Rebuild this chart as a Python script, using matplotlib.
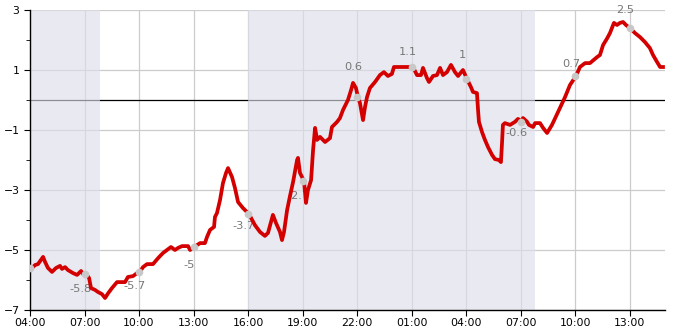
import numpy as np
import matplotlib
matplotlib.use('Agg')
import matplotlib.pyplot as plt
from matplotlib.ticker import MultipleLocator

# --- Data (hours after 04:00 on day one) ---
hours = [0.11, 0.28, 0.44, 0.72, 0.83, 0.99, 1.21, 1.43, 1.65, 1.76, 1.93, 2.09,
         2.37, 2.59, 2.81, 2.92, 3.08, 3.25, 3.36, 3.58, 3.74, 3.96, 4.13, 4.29,
         4.51, 4.79, 5.23, 5.39, 5.67, 5.89, 6.05, 6.22, 6.44, 6.77, 7.05, 7.32,
         7.60, 7.76, 7.98, 8.15, 8.37, 8.70, 8.81, 9.03, 9.36, 9.63, 9.74, 9.91,
         10.13, 10.18, 10.29, 10.46, 10.62, 10.79, 10.90, 11.12, 11.28, 11.45,
         11.72, 12.05, 12.38, 12.66, 12.93, 13.10, 13.37, 13.54, 13.76, 13.87,
         13.98, 14.15, 14.31, 14.48, 14.70, 14.75, 14.86, 15.08, 15.19, 15.30,
         15.47, 15.58, 15.69, 15.80, 15.96, 16.24, 16.51, 16.62, 16.90, 17.06,
         17.23, 17.50, 17.67, 17.78, 17.94, 18.05, 18.16, 18.33, 18.44, 18.55,
         18.71, 18.99, 19.26, 19.48, 19.70, 19.92, 20.03, 20.92, 21.08, 21.30,
         21.52, 21.63, 21.85, 21.96, 22.18, 22.40, 22.57, 22.73, 22.95, 23.17,
         23.39, 23.56, 23.83, 24.05, 24.27, 24.38, 24.60, 24.66, 24.71, 24.88,
         25.04, 25.21, 25.43, 25.59, 25.81, 25.92, 25.98, 26.03, 26.14, 26.42,
         26.69, 26.86, 27.08, 27.13, 27.35, 27.46, 27.69, 27.80, 28.07, 28.24,
         28.46, 28.73, 29.06, 29.45, 29.72, 30.05, 30.27, 30.55, 30.82, 31.21,
         31.37, 31.54, 31.76, 31.92, 32.14, 32.31, 32.47, 32.64, 32.80, 33.02,
         33.30, 33.57, 33.85, 34.12, 34.29, 34.51, 34.68, 34.84]
values = [-5.6, -5.5, -5.47, -5.23, -5.4, -5.6, -5.73, -5.6, -5.53, -5.63, -5.57, -5.67,
          -5.77, -5.83, -5.7, -5.8, -5.8, -5.93, -6.27, -6.33, -6.4, -6.47, -6.6, -6.45,
          -6.27, -6.07, -6.07, -5.9, -5.87, -5.77, -5.73, -5.57, -5.47, -5.47, -5.27, -5.1,
          -4.97, -4.9, -5.0, -4.93, -4.87, -4.87, -5.0, -4.9, -4.77, -4.77, -4.57, -4.33,
          -4.23, -3.9, -3.77, -3.33, -2.77, -2.43, -2.27, -2.57, -2.93, -3.4,
          -3.6, -3.8, -4.17, -4.4, -4.53, -4.43, -3.83, -4.1, -4.4, -4.67,
          -4.4, -3.67, -3.2, -2.73, -2.0, -1.93, -2.43, -2.7, -3.43, -3.0,
          -2.67, -1.67, -0.93, -1.33, -1.23, -1.4, -1.27, -0.9, -0.73, -0.6,
          -0.33, 0.0, 0.33, 0.57, 0.4, 0.1, -0.1, -0.67, -0.23, 0.1,
          0.4, 0.6, 0.83, 0.93, 0.8, 0.87, 1.1, 1.1, 1.1, 0.83,
          0.83, 1.07, 0.73, 0.6, 0.8, 0.83, 1.07, 0.83, 0.93, 1.17,
          0.93, 0.8, 1.0, 0.7, 0.43, 0.27, 0.23, -0.33, -0.73, -1.07,
          -1.33, -1.57, -1.83, -1.97, -2.0, -2.07, -1.43, -0.83, -0.77, -0.83,
          -0.73, -0.63, -0.73, -0.6, -0.72, -0.83, -0.9, -0.77, -0.77, -0.93,
          -1.1, -0.83, -0.4, 0.1, 0.5, 0.8, 1.1, 1.23, 1.23, 1.43,
          1.5, 1.83, 2.05, 2.23, 2.57, 2.5, 2.57, 2.6, 2.5, 2.4,
          2.23, 2.1, 1.93, 1.73, 1.5, 1.27, 1.1, 1.1]

# 3-hourly readings: marker position on the curve and the printed label
mark_hours = [0, 3, 6, 9, 12, 15, 18, 21, 24, 27, 30, 33]
mark_values = [-5.6, -5.8, -5.73, -4.9, -3.8, -2.7, 0.1, 1.1, 0.7, -0.73, 0.8, 2.4]
label_values = [None, -5.8, -5.7, -5, -3.7, -2.7, 0.6, 1.1, 1, -0.6, 0.7, 2.5]

tick_labels = ['04:00', '07:00', '10:00', '13:00', '16:00', '19:00',
               '22:00', '01:00', '04:00', '07:00', '10:00', '13:00']

# darkness (sunset -> sunrise) spans
night_start = [0, 12]
night_end = [3.85, 27.8]

# --- Plot ---
fig = plt.figure(figsize=(6.85, 3.3), dpi=100)
ax = fig.add_axes([30 / 685, 20 / 330, 635 / 685, 300 / 330])

ax.set_xlim(0, 34.95)
ax.set_ylim(-7, 3)

ax.set_xticks(mark_hours)
ax.set_xticklabels(tick_labels, fontsize=7.8)
ax.yaxis.set_major_locator(MultipleLocator(2, offset=1))
ax.yaxis.set_minor_locator(MultipleLocator(1))
ax.tick_params(axis='y', labelsize=7.8, length=4, width=0.8)
ax.tick_params(axis='y', which='minor', length=3)
ax.tick_params(axis='x', length=4, width=0.8, pad=2)
ax.grid(True, which='major', color='#cccccc', lw=0.9)
ax.set_axisbelow(True)

for s in ['top', 'right']:
    ax.spines[s].set_visible(False)
for s in ['left', 'bottom']:
    ax.spines[s].set_linewidth(1.0)

ax.axhline(0, color='black', lw=0.9, zorder=1.5)

for a, b in zip(night_start, night_end):
    ax.axvspan(a, b, color=(222 / 255, 222 / 255, 235 / 255), alpha=0.64, lw=0, zorder=2)

for h, lv in zip(mark_hours, label_values):
    if lv is None:
        continue
    off = 11 if lv > 0 else -11
    ax.annotate(f'{lv:g}', (h, lv), xytext=(-3, off), textcoords='offset points',
                ha='center', va='center', fontsize=8.2, color='#777777', zorder=3)

ax.plot(hours, values, color='#d40000', lw=2.7, zorder=4)
ax.plot(mark_hours, mark_values, 'o', color='#c8c8c8', ms=5.5, mec='none', zorder=5)

fig.savefig('out.png', dpi=100)
